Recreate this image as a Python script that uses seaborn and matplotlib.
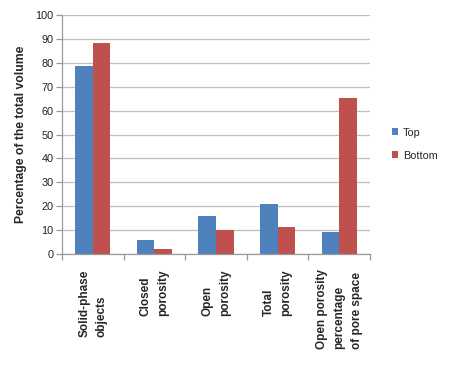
import matplotlib
matplotlib.use("Agg")
import matplotlib.pyplot as plt
import seaborn as sns
import pandas as pd
from matplotlib.ticker import FixedLocator

categories = ["Solid-phase\nobjects", "Closed\nporosity", "Open\nporosity",
              "Total\nporosity", "Open porosity\npercentage\nof pore space"]
top_values = [78.5, 6.0, 16.0, 21.0, 9.0]
bottom_values = [88.3, 2.0, 10.0, 11.5, 65.3]
series_names = ["Top", "Bottom"]
colors = ["#4F81BD", "#C0504D"]

df = pd.DataFrame({
    "category": categories * 2,
    "value": top_values + bottom_values,
    "series": [series_names[0]] * len(categories) + [series_names[1]] * len(categories),
})

sns.set_style("white")
plt.rcParams["font.family"] = ["Liberation Sans", "DejaVu Sans"]

fig = plt.figure(figsize=(4.5, 3.86), dpi=100)
ax = fig.add_axes([0.138, 0.342, 0.684, 0.619])

sns.barplot(data=df, x="category", y="value", hue="series", palette=colors,
            width=0.57, gap=0, saturation=1, ax=ax, linewidth=0)

ax.set_xlim(-0.5, 4.5)
ax.set_ylim(0, 100)
ax.set_yticks(range(0, 101, 10))
ax.yaxis.grid(True, color="#BEBEBE", linewidth=0.9)
ax.set_axisbelow(True)
for s in ["top", "right"]:
    ax.spines[s].set_visible(False)
for s in ["left", "bottom"]:
    ax.spines[s].set_color("#9A9A9A")
    ax.spines[s].set_linewidth(0.9)

ax.tick_params(axis="y", which="major", length=4, color="#9A9A9A", width=0.9,
               labelsize=7.8, labelcolor="#222222", pad=2, left=True)
ax.tick_params(axis="x", which="major", length=0, pad=11)
ax.xaxis.set_minor_locator(FixedLocator([-0.5, 0.5, 1.5, 2.5, 3.5, 4.5]))
ax.tick_params(axis="x", which="minor", length=4, color="#9A9A9A", width=0.9, bottom=True)

ax.set_xticks(range(len(categories)))
ax.set_xticklabels(categories, rotation=90, fontsize=8.5, fontweight="bold",
                   rotation_mode="anchor", ha="right", va="center",
                   multialignment="left", linespacing=1.6)

ax.set_xlabel("")
ax.set_ylabel("Percentage of the total volume", fontsize=8.7, fontweight="bold", labelpad=6)

ax.legend(loc="center left", bbox_to_anchor=(1.04, 0.46), frameon=False,
          fontsize=7.8, handlelength=0.6, handleheight=0.6, labelspacing=1.2,
          handletextpad=0.4, title=None)

fig.savefig("out.png", dpi=100)
